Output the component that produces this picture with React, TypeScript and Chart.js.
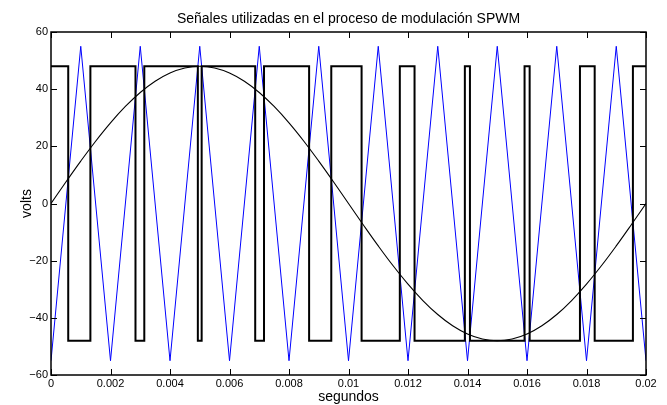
import React, { useEffect, useRef } from 'react';
import { Chart, registerables } from 'chart.js';

Chart.register(...registerables);

// ---- data ----
const sineTimes = [
  0, 0.0005, 0.001, 0.0015, 0.002, 0.0025, 0.003, 0.0035, 0.004, 0.0045,
  0.005, 0.0055, 0.006, 0.0065, 0.007, 0.0075, 0.008, 0.0085, 0.009, 0.0095,
  0.01, 0.0105, 0.011, 0.0115, 0.012, 0.0125, 0.013, 0.0135, 0.014, 0.0145,
  0.015, 0.0155, 0.016, 0.0165, 0.017, 0.0175, 0.018, 0.0185, 0.019, 0.0195,
  0.02,
];
const sineValues = [
  0, 7.51, 14.83, 21.79, 28.21, 33.94, 38.83, 42.77, 45.65, 47.41,
  48, 47.41, 45.65, 42.77, 38.83, 33.94, 28.21, 21.79, 14.83, 7.51,
  0, -7.51, -14.83, -21.79, -28.21, -33.94, -38.83, -42.77, -45.65, -47.41,
  -48, -47.41, -45.65, -42.77, -38.83, -33.94, -28.21, -21.79, -14.83, -7.51,
  0,
];

const triangleTimes = [
  0, 0.001, 0.002, 0.003, 0.004, 0.005, 0.006, 0.007, 0.008, 0.009, 0.01,
  0.011, 0.012, 0.013, 0.014, 0.015, 0.016, 0.017, 0.018, 0.019, 0.02,
];
const triangleValues = [
  -55, 55, -55, 55, -55, 55, -55, 55, -55, 55, -55,
  55, -55, 55, -55, 55, -55, 55, -55, 55, -55,
];

// switching instants of the PWM output and the level held from each instant on
const pwmTimes = [
  0, 0.000579, 0.001324, 0.00284, 0.003136, 0.004936, 0.005064, 0.006864,
  0.00716, 0.008676, 0.009421, 0.01044, 0.011725, 0.01222, 0.013911, 0.014082,
  0.015918, 0.016089, 0.01778, 0.018275, 0.01956, 0.02,
];
const pwmLevels = [
  48, -48, 48, -48, 48, -48, 48, -48,
  48, -48, 48, -48, 48, -48, 48, -48,
  48, -48, 48, -48, 48, 48,
];

const xTickValues = [0, 0.002, 0.004, 0.006, 0.008, 0.01, 0.012, 0.014, 0.016, 0.018, 0.02];
const xTickLabels = ['0', '0.002', '0.004', '0.006', '0.008', '0.01', '0.012', '0.014', '0.016', '0.018', '0.02'];
const yTickValues = [-60, -40, -20, 0, 20, 40, 60];
const yTickLabels = ['\u221260', '\u221240', '\u221220', '0', '20', '40', '60'];

const titleText = 'Señales utilizadas en el proceso de modulación SPWM';
const xAxisLabel = 'segundos';
const yAxisLabel = 'volts';

const FONT = '"Liberation Sans", Arial, Helvetica, sans-serif';

const framePlugin = {
  id: 'matlabFrame',
  afterDatasetsDraw(chart: any) {
    const { ctx, chartArea, scales } = chart;
    const { left, right, top, bottom } = chartArea;
    const xs = scales.x;
    const ys = scales.y;
    const tick = 6;
    ctx.save();
    ctx.strokeStyle = '#000';
    ctx.lineWidth = 1;
    ctx.beginPath();
    xTickValues.forEach((v) => {
      const px = Math.round(xs.getPixelForValue(v)) + 0.5;
      ctx.moveTo(px, bottom);
      ctx.lineTo(px, bottom - tick);
      ctx.moveTo(px, top);
      ctx.lineTo(px, top + tick);
    });
    yTickValues.forEach((v) => {
      const py = Math.round(ys.getPixelForValue(v)) + 0.5;
      ctx.moveTo(left, py);
      ctx.lineTo(left + tick, py);
      ctx.moveTo(right, py);
      ctx.lineTo(right - tick, py);
    });
    ctx.stroke();
    ctx.lineWidth = 1.5;
    ctx.strokeRect(left, top, right - left, bottom - top);

    ctx.fillStyle = '#000';
    ctx.font = `14px ${FONT}`;
    ctx.textAlign = 'center';
    ctx.textBaseline = 'alphabetic';
    ctx.fillText(titleText, (left + right) / 2, 23);
    ctx.fillText(xAxisLabel, (left + right) / 2, 401);
    ctx.translate(31, (top + bottom) / 2);
    ctx.rotate(-Math.PI / 2);
    ctx.fillText(yAxisLabel, 0, 0);
    ctx.restore();
  },
};

export default function App() {
  const canvasRef = useRef<HTMLCanvasElement | null>(null);

  useEffect(() => {
    const canvas = canvasRef.current;
    if (!canvas) return;
    const chart = new Chart(canvas, {
      type: 'line',
      data: {
        datasets: [
          {
            label: 'PWM',
            data: pwmTimes.map((t, i) => ({ x: t, y: pwmLevels[i] })),
            borderColor: '#000000',
            borderWidth: 2,
            stepped: 'before',
            pointRadius: 0,
            fill: false,
          },
          {
            label: 'Senoidal',
            data: sineTimes.map((t, i) => ({ x: t, y: sineValues[i] })),
            borderColor: '#000000',
            borderWidth: 1.1,
            tension: 0.4,
            pointRadius: 0,
            fill: false,
          },
          {
            label: 'Triangular',
            data: triangleTimes.map((t, i) => ({ x: t, y: triangleValues[i] })),
            borderColor: '#0000ff',
            borderWidth: 1,
            tension: 0,
            pointRadius: 0,
            fill: false,
          },
        ],
      },
      options: {
        animation: false,
        responsive: false,
        devicePixelRatio: 1,
        layout: { padding: { top: 32, right: 21, left: 0, bottom: 0 } },
        plugins: {
          legend: { display: false },
          title: { display: false },
          tooltip: { enabled: false },
        },
        scales: {
          x: {
            type: 'linear',
            min: 0,
            max: 0.02,
            grid: { display: false, drawTicks: false },
            border: { display: false },
            afterBuildTicks: (s: any) => {
              s.ticks = xTickValues.map((v) => ({ value: v }));
            },
            afterFit: (s: any) => {
              s.height = 30;
            },
            ticks: {
              autoSkip: false,
              maxRotation: 0,
              minRotation: 0,
              padding: 2,
              color: '#000',
              font: { family: FONT, size: 11 },
              callback: (_v: any, i: number) => xTickLabels[i],
            },
          },
          y: {
            type: 'linear',
            min: -60,
            max: 60,
            grid: { display: false, drawTicks: false },
            border: { display: false },
            afterBuildTicks: (s: any) => {
              s.ticks = yTickValues.map((v) => ({ value: v }));
            },
            afterFit: (s: any) => {
              s.width = 51;
            },
            ticks: {
              autoSkip: false,
              padding: 3,
              color: '#000',
              font: { family: FONT, size: 11 },
              callback: (_v: any, i: number) => yTickLabels[i],
            },
          },
        },
      },
      plugins: [framePlugin],
    });
    return () => chart.destroy();
  }, []);

  return (
    <div style={{ position: 'absolute', left: 0, top: 0, width: 667, height: 405, background: '#fff' }}>
      <canvas ref={canvasRef} width={667} height={405} style={{ display: 'block' }} />
    </div>
  );
}
